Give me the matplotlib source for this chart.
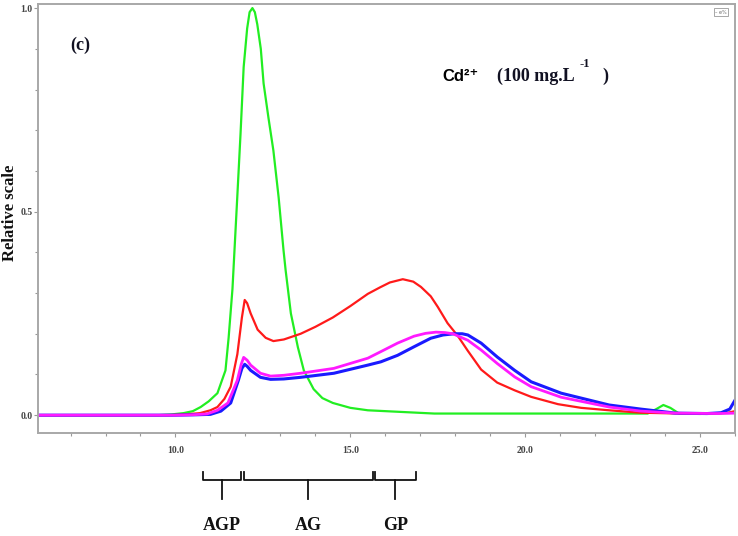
import matplotlib
matplotlib.use('Agg')
import matplotlib.pyplot as plt
import matplotlib.transforms as mtransforms
from matplotlib.ticker import MultipleLocator, FormatStrFormatter

# elution volume (mL) / relative scale
green_x = [6.1, 9.5, 9.9, 10.23, 10.5, 10.72, 10.95, 11.2, 11.43, 11.52, 11.63, 11.77, 11.86, 11.95,
           12.05, 12.12, 12.2, 12.27, 12.34, 12.44, 12.52, 12.66, 12.8, 12.95, 13.09, 13.15, 13.3,
           13.5, 13.67, 13.95, 14.2, 14.5, 15.0, 15.5, 17.4, 20.0, 23.5, 23.75, 23.95, 24.15, 24.4,
           25.0, 26.0]
green_y = [0, 0, 0.002, 0.005, 0.01, 0.02, 0.034, 0.054, 0.11, 0.19, 0.31, 0.54, 0.69, 0.855,
           0.95, 0.99, 1.0, 0.99, 0.96, 0.9, 0.815, 0.73, 0.65, 0.535, 0.405, 0.356, 0.25,
           0.167, 0.11, 0.064, 0.042, 0.03, 0.018, 0.012, 0.004, 0.004, 0.004, 0.015, 0.025, 0.018,
           0.004, 0.003, 0.006]

red_x = [6.1, 9.8, 10.3, 10.7, 11.0, 11.2, 11.4, 11.58, 11.77, 11.9, 11.98, 12.05, 12.15, 12.35,
         12.58, 12.8, 13.1, 13.58, 14.0, 14.5, 15.0, 15.5, 15.85, 16.13, 16.5, 16.8, 17.02, 17.3,
         17.5, 17.78, 18.07, 18.36, 18.74, 19.2, 19.7, 20.17, 20.94, 21.6, 22.4, 23.3, 24.5, 25.5,
         25.8, 26.0]
red_y = [0, 0, 0.002, 0.005, 0.012, 0.02, 0.04, 0.07, 0.15, 0.24, 0.283, 0.275, 0.25, 0.21,
         0.19, 0.182, 0.186, 0.2, 0.217, 0.24, 0.268, 0.298, 0.314, 0.326, 0.334, 0.328, 0.315, 0.292,
         0.266, 0.226, 0.195, 0.158, 0.112, 0.08, 0.061, 0.045, 0.027, 0.018, 0.012, 0.006, 0.004, 0.005,
         0.006, 0.01]

magenta_x = [6.1, 10.0, 10.5, 10.9, 11.2, 11.5, 11.77, 11.88, 11.95, 12.05, 12.15, 12.43, 12.72,
             13.1, 13.58, 14.53, 15.5, 15.87, 16.35, 16.82, 17.15, 17.45, 17.7, 17.93, 18.36, 18.74,
             19.2, 19.7, 20.17, 21.03, 22.4, 23.3, 24.3, 25.5, 26.0]
magenta_y = [0, 0, 0.001, 0.003, 0.012, 0.03, 0.086, 0.125, 0.142, 0.135, 0.123, 0.103, 0.096,
             0.098, 0.103, 0.115, 0.14, 0.156, 0.177, 0.194, 0.201, 0.204, 0.203, 0.2, 0.184, 0.16,
             0.127, 0.094, 0.07, 0.044, 0.02, 0.01, 0.005, 0.004, 0.005]

blue_x = [6.1, 10.0, 10.6, 11.0, 11.3, 11.58, 11.8, 11.9, 11.98, 12.05, 12.15, 12.43, 12.72, 13.1,
          13.58, 14.53, 15.5, 15.87, 16.35, 16.82, 17.3, 17.65, 17.97, 18.2, 18.36, 18.74, 19.2,
          19.7, 20.17, 21.03, 22.4, 23.3, 24.3, 25.2, 25.6, 25.85, 26.0]
blue_y = [0, 0, 0.001, 0.002, 0.01, 0.03, 0.086, 0.115, 0.125, 0.12, 0.11, 0.093, 0.088, 0.089,
          0.093, 0.103, 0.123, 0.131, 0.147, 0.168, 0.189, 0.197, 0.2, 0.2, 0.197, 0.177, 0.143,
          0.11, 0.082, 0.054, 0.025, 0.015, 0.005, 0.004, 0.006, 0.015, 0.037]

# fraction brackets under the axis (start, end in mL)
regions = ['AGP', 'AG', 'GP']
region_start = [10.8, 11.95, 15.7]
region_end = [11.88, 15.65, 16.88]

fig = plt.figure(figsize=(7.38, 5.36), dpi=100)
ax = fig.add_axes([0.0515, 0.192, 0.9445, 0.8005])

ax.plot(green_x, green_y, color='#22ee22', lw=1.6)
ax.plot(red_x, red_y, color='#ff1a1a', lw=1.6)
ax.plot(blue_x, blue_y, color='#1a1aff', lw=2.2)
ax.plot(magenta_x, magenta_y, color='#ff1aff', lw=2.0)

ax.set_xlim(6.07, 26.0)
ax.set_ylim(-0.044, 1.01)

ax.xaxis.set_major_locator(MultipleLocator(5))
ax.xaxis.set_minor_locator(MultipleLocator(1))
ax.yaxis.set_major_locator(MultipleLocator(0.5))
ax.yaxis.set_minor_locator(MultipleLocator(0.1))
ax.xaxis.set_major_formatter(FormatStrFormatter('%.1f'))
ax.yaxis.set_major_formatter(FormatStrFormatter('%.1f'))
ax.tick_params(which='both', direction='out', color='#999999', width=0.8)
ax.tick_params(which='major', length=3, labelsize=7, labelcolor='#444444')
ax.tick_params(axis='x', which='major', pad=6)
ax.tick_params(axis='y', which='major', pad=1)
ax.tick_params(which='minor', length=2)
for lab in ax.get_xticklabels() + ax.get_yticklabels():
    lab.set_family('Liberation Serif')
    lab.set_fontweight('bold')
for sp in ax.spines.values():
    sp.set_color('#a8a8a8')
    sp.set_linewidth(1.4)

serif_bold = dict(family='Liberation Serif', fontweight='bold')
fig.text(0.014, 0.603, 'Relative scale', rotation=90, ha='center', va='center',
         fontsize=12, color='#111111', **serif_bold)
ax.text(0.06, 0.904, '(c)', transform=ax.transAxes, ha='center', va='center',
        fontsize=13, color='#111122', **serif_bold)
ax.text(0.58, 0.832, 'Cd²⁺', transform=ax.transAxes, ha='left', va='center',
        fontsize=12, fontweight='bold', family=['Liberation Sans', 'DejaVu Sans'])
ax.text(0.659, 0.832, '(100 mg.L', transform=ax.transAxes, ha='left', va='center',
        fontsize=13, color='#111122', **serif_bold)
ax.text(0.777, 0.86, '-1', transform=ax.transAxes, ha='left', va='center',
        fontsize=9, color='#111122', **serif_bold)
ax.text(0.81, 0.832, ')', transform=ax.transAxes, ha='left', va='center',
        fontsize=13, color='#111122', **serif_bold)
ax.text(0.98, 0.981, '\u2013 e%', transform=ax.transAxes, ha='center', va='center',
        fontsize=3.5, color='#666666',
        bbox=dict(boxstyle='square,pad=0.3', fc='white', ec='#999999', lw=0.6))

# brackets for the fractions
trans = mtransforms.blended_transform_factory(ax.transData, fig.transFigure)
y_top, y_mid, y_stem = 0.119, 0.1045, 0.069
for name, x0, x1 in zip(regions, region_start, region_end):
    xc = (x0 + x1) / 2
    ax.plot([x0, x0, x1, x1], [y_top, y_mid, y_mid, y_top], color='#111111', lw=1.3,
            transform=trans, clip_on=False, solid_joinstyle='round')
    ax.plot([xc, xc], [y_mid, y_stem], color='#111111', lw=1.3, transform=trans, clip_on=False)
    ax.text(xc, 0.0205, name, transform=trans, ha='center', va='center',
            fontsize=13, color='#111111', **serif_bold)

fig.savefig('out.png', dpi=100)
